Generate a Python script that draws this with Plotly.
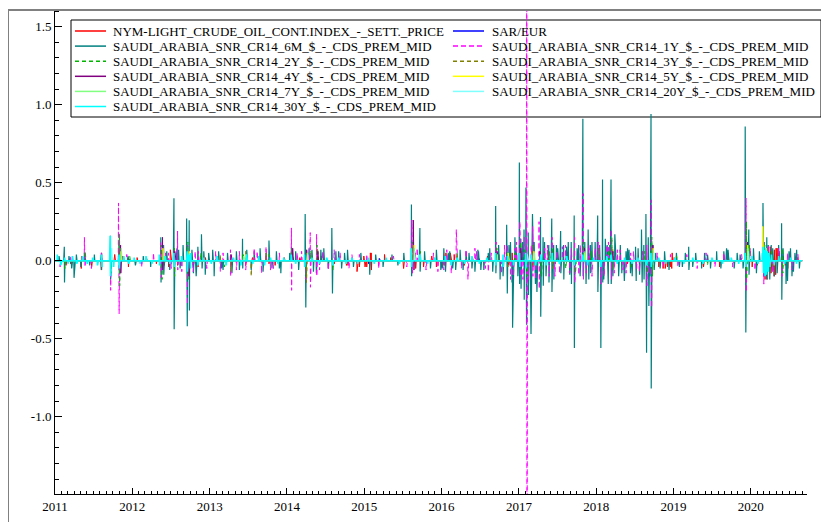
import pandas as pd
import plotly.graph_objects as go

# ---------------- data (daily changes) ----------------
START, END = "2011-01-03", "2020-08-31"

SERIES_NAMES = [
    "NYM-LIGHT_CRUDE_OIL_CONT.INDEX_-_SETT._PRICE",
    "SAR/EUR",
    "SAUDI_ARABIA_SNR_CR14_6M_$_-_CDS_PREM_MID",
    "SAUDI_ARABIA_SNR_CR14_1Y_$_-_CDS_PREM_MID",
    "SAUDI_ARABIA_SNR_CR14_2Y_$_-_CDS_PREM_MID",
    "SAUDI_ARABIA_SNR_CR14_3Y_$_-_CDS_PREM_MID",
    "SAUDI_ARABIA_SNR_CR14_4Y_$_-_CDS_PREM_MID",
    "SAUDI_ARABIA_SNR_CR14_5Y_$_-_CDS_PREM_MID",
    "SAUDI_ARABIA_SNR_CR14_7Y_$_-_CDS_PREM_MID",
    "SAUDI_ARABIA_SNR_CR14_20Y_$_-_CDS_PREM_MID",
    "SAUDI_ARABIA_SNR_CR14_30Y_$_-_CDS_PREM_MID",
]

OIL = [
    ("2011-02-22", -0.03), ("2011-03-16", -0.02), ("2011-05-05", -0.05), ("2011-05-06", 0.03),
    ("2011-06-23", -0.04), ("2011-08-08", -0.06), ("2011-08-09", 0.05), ("2011-09-22", -0.04),
    ("2011-10-10", 0.04), ("2011-11-15", 0.03), ("2011-12-14", -0.04),
    ("2012-01-24", 0.02), ("2012-03-08", 0.02), ("2012-04-24", -0.02), ("2012-05-31", -0.03),
    ("2012-06-21", -0.04), ("2012-06-29", 0.07), ("2012-08-02", -0.03), ("2012-10-15", -0.03),
    ("2012-11-07", -0.04), ("2012-12-12", 0.02),
    ("2013-02-25", -0.03), ("2013-04-15", -0.03), ("2013-06-20", -0.03), ("2013-07-22", 0.02),
    ("2013-08-28", 0.03), ("2013-10-08", -0.02), ("2013-11-06", -0.03), ("2013-12-19", 0.02),
    ("2014-01-29", 0.02), ("2014-03-03", 0.02), ("2014-06-12", 0.03), ("2014-08-13", -0.02),
    ("2014-10-09", -0.03), ("2014-10-16", -0.03), ("2014-11-28", -0.07), ("2014-12-09", -0.04),
    ("2014-12-11", -0.04), ("2014-12-30", 0.03),
    ("2015-01-05", -0.04), ("2015-01-13", -0.04), ("2015-01-30", 0.05), ("2015-02-03", 0.05),
    ("2015-02-04", -0.06), ("2015-03-10", -0.03), ("2015-04-07", 0.04), ("2015-05-06", 0.02),
    ("2015-07-06", -0.05), ("2015-08-27", 0.06), ("2015-08-31", 0.05), ("2015-09-01", -0.05),
    ("2015-10-08", -0.04), ("2015-11-16", 0.03), ("2015-12-08", -0.04),
    ("2016-01-07", -0.02), ("2016-01-13", -0.03), ("2016-01-20", -0.05), ("2016-01-22", 0.05),
    ("2016-02-02", 0.04), ("2016-02-12", 0.05), ("2016-03-01", 0.04), ("2016-04-18", -0.03),
    ("2016-05-26", 0.02), ("2016-08-05", 0.03), ("2016-09-28", 0.04), ("2016-11-14", -0.03),
    ("2016-11-30", 0.05), ("2016-12-12", 0.02),
    ("2017-03-08", -0.04), ("2017-06-21", -0.02), ("2017-11-30", 0.02), ("2018-02-05", -0.03),
    ("2018-05-29", -0.02), ("2018-10-24", -0.04), ("2018-11-13", -0.05), ("2018-11-23", -0.05),
    ("2018-12-04", -0.04), ("2018-12-19", -0.04), ("2018-12-24", -0.05), ("2018-12-26", 0.05),
    ("2019-01-04", 0.02), ("2019-05-23", -0.04), ("2019-08-07", -0.04), ("2019-09-16", 0.05),
    ("2020-01-08", -0.04), ("2020-01-31", -0.03), ("2020-03-09", -0.12), ("2020-03-10", 0.05),
    ("2020-03-16", -0.10), ("2020-03-18", -0.12), ("2020-03-19", 0.08), ("2020-03-23", -0.05),
    ("2020-03-25", 0.05), ("2020-04-01", -0.02), ("2020-04-02", 0.09), ("2020-04-03", 0.08),
    ("2020-04-06", -0.08), ("2020-04-13", 0.05), ("2020-04-15", -0.06), ("2020-04-16", 0.03),
    ("2020-04-21", -0.10), ("2020-04-22", 0.07), ("2020-04-28", -0.09), ("2020-04-29", 0.07),
    ("2020-04-30", 0.08), ("2020-05-01", 0.05), ("2020-05-05", 0.08), ("2020-05-14", 0.06),
    ("2020-06-01", 0.03), ("2020-06-12", -0.03), ("2020-06-24", -0.05), ("2020-08-10", 0.02),
]

SAR_EUR = [
    ("2011-08-10", 0.015), ("2015-01-22", -0.02), ("2015-03-13", 0.015),
    ("2016-06-24", 0.02), ("2020-03-12", 0.015),
]

CDS_6M = [
    ("2011-01-20", 0.03), ("2011-02-14", 0.09), ("2011-02-15", -0.14), ("2011-03-08", 0.03),
    ("2011-03-21", -0.05), ("2011-04-01", -0.11), ("2011-04-12", 0.04), ("2011-05-03", -0.04),
    ("2011-05-20", 0.05), ("2011-06-14", -0.03), ("2011-07-06", 0.04), ("2011-08-08", 0.05),
    ("2011-08-09", -0.06), ("2011-09-20", 0.16), ("2011-09-21", -0.12), ("2011-10-31", 0.12),
    ("2011-11-01", -0.08), ("2011-12-12", 0.03),
    ("2012-01-16", -0.03), ("2012-02-22", 0.03), ("2012-03-28", -0.04), ("2012-05-15", 0.15),
    ("2012-05-16", -0.14), ("2012-05-28", 0.10), ("2012-05-29", -0.09), ("2012-06-12", 0.06),
    ("2012-06-26", -0.06), ("2012-07-16", 0.40), ("2012-07-17", -0.44), ("2012-07-30", 0.08),
    ("2012-08-07", 0.07), ("2012-08-14", -0.05), ("2012-08-28", 0.10), ("2012-09-14", 0.27),
    ("2012-09-17", -0.42), ("2012-09-26", 0.26), ("2012-09-27", -0.32), ("2012-10-09", 0.07),
    ("2012-10-16", -0.08), ("2012-10-29", -0.10), ("2012-11-06", 0.09), ("2012-11-23", 0.17),
    ("2012-11-26", -0.05), ("2012-12-04", 0.06), ("2012-12-11", -0.09), ("2012-12-27", 0.05),
    ("2013-01-15", 0.07), ("2013-01-22", -0.10), ("2013-02-12", 0.06), ("2013-02-26", -0.05),
    ("2013-03-05", -0.06), ("2013-03-26", 0.05), ("2013-04-16", -0.08), ("2013-05-07", 0.06),
    ("2013-05-21", -0.06), ("2013-06-05", 0.14), ("2013-06-06", -0.05), ("2013-06-25", 0.07),
    ("2013-07-16", -0.06), ("2013-07-30", 0.06), ("2013-08-27", 0.08), ("2013-09-10", -0.07),
    ("2013-09-24", 0.05), ("2013-10-08", 0.13), ("2013-10-22", -0.05), ("2013-11-12", 0.06),
    ("2013-11-26", -0.05), ("2013-12-03", -0.08),
    ("2014-01-14", 0.05), ("2014-01-22", 0.09), ("2014-02-11", 0.06), ("2014-02-25", -0.06),
    ("2014-03-28", 0.30), ("2014-03-31", -0.30), ("2014-04-15", 0.08), ("2014-04-29", 0.07),
    ("2014-05-06", -0.07), ("2014-05-20", -0.08), ("2014-06-10", 0.07), ("2014-06-24", 0.08),
    ("2014-07-15", -0.05), ("2014-08-01", 0.21), ("2014-08-04", -0.21), ("2014-08-20", 0.06),
    ("2014-09-02", 0.06), ("2014-09-16", -0.05), ("2014-09-30", 0.05), ("2014-10-14", 0.07),
    ("2014-11-11", -0.04), ("2014-12-16", 0.05),
    ("2015-01-27", -0.09), ("2015-02-24", 0.04), ("2015-03-31", -0.04), ("2015-05-12", 0.04),
    ("2015-06-09", -0.03), ("2015-07-07", 0.05), ("2015-08-12", 0.36), ("2015-08-13", -0.10),
    ("2015-09-21", 0.21), ("2015-09-22", -0.07), ("2015-10-13", 0.06), ("2015-11-10", -0.05),
    ("2015-12-08", 0.07), ("2015-12-29", -0.06),
    ("2016-01-05", -0.05), ("2016-01-12", 0.08), ("2016-01-20", -0.07), ("2016-02-02", 0.05),
    ("2016-02-09", 0.06), ("2016-02-23", -0.05), ("2016-03-08", -0.06), ("2016-03-29", 0.07),
    ("2016-04-12", -0.06), ("2016-04-26", 0.06), ("2016-05-10", 0.05), ("2016-05-24", -0.05),
    ("2016-06-07", -0.07), ("2016-06-21", 0.07), ("2016-06-24", 0.06), ("2016-07-05", -0.06),
    ("2016-07-19", -0.06), ("2016-08-09", 0.05), ("2016-08-16", 0.08), ("2016-08-30", -0.07),
    ("2016-09-13", 0.35), ("2016-09-14", -0.08), ("2016-09-27", 0.10), ("2016-10-04", -0.12),
    ("2016-10-18", -0.10), ("2016-11-04", 0.23), ("2016-11-07", -0.21), ("2016-11-15", 0.10),
    ("2016-11-22", 0.12), ("2016-11-29", -0.14), ("2016-12-02", -0.43), ("2016-12-13", 0.15),
    ("2016-12-20", 0.08), ("2016-12-27", -0.10),
    ("2017-01-03", 0.63), ("2017-01-04", -0.15), ("2017-01-10", 0.14), ("2017-01-11", -0.18),
    ("2017-01-18", 0.12), ("2017-01-25", 0.20), ("2017-01-26", -0.25), ("2017-02-03", 0.47),
    ("2017-02-06", -0.41), ("2017-02-14", 0.18), ("2017-02-15", -0.22), ("2017-02-27", -0.47),
    ("2017-03-06", 0.30), ("2017-03-14", 0.12), ("2017-03-20", -0.15), ("2017-03-27", -0.20),
    ("2017-04-13", 0.28), ("2017-04-14", -0.36), ("2017-04-25", 0.15), ("2017-04-26", -0.16),
    ("2017-05-02", 0.12), ("2017-05-09", -0.10), ("2017-05-22", 0.10), ("2017-05-23", -0.14),
    ("2017-06-05", 0.27), ("2017-06-06", -0.20), ("2017-06-14", 0.10), ("2017-06-15", -0.12),
    ("2017-06-27", 0.10), ("2017-07-03", 0.08), ("2017-07-17", 0.19), ("2017-07-18", -0.08),
    ("2017-07-31", 0.10), ("2017-08-01", -0.12), ("2017-08-14", 0.09), ("2017-08-22", 0.12),
    ("2017-08-29", -0.09), ("2017-09-05", 0.12), ("2017-09-06", -0.15), ("2017-09-19", 0.29),
    ("2017-09-20", -0.56), ("2017-10-03", 0.08), ("2017-10-10", 0.10), ("2017-10-17", -0.10),
    ("2017-10-30", 0.91), ("2017-10-31", -0.10), ("2017-11-08", 0.12), ("2017-11-14", -0.15),
    ("2017-11-24", 0.20), ("2017-11-27", -0.12), ("2017-12-05", 0.10), ("2017-12-06", -0.08),
    ("2017-12-12", 0.12), ("2017-12-27", 0.12),
    ("2018-01-08", 0.29), ("2018-01-09", -0.20), ("2018-01-17", 0.10), ("2018-01-23", -0.56),
    ("2018-01-31", 0.52), ("2018-02-01", -0.14), ("2018-02-06", -0.12), ("2018-02-13", 0.14),
    ("2018-02-22", 0.10), ("2018-02-27", -0.15), ("2018-03-06", 0.10), ("2018-03-12", 0.52),
    ("2018-03-13", -0.15), ("2018-03-21", -0.10), ("2018-03-30", 0.17), ("2018-04-04", 0.08),
    ("2018-04-17", -0.10), ("2018-04-25", 0.10), ("2018-05-02", -0.08), ("2018-05-14", -0.13),
    ("2018-05-22", 0.06), ("2018-05-29", 0.08), ("2018-06-05", 0.07), ("2018-06-12", -0.08),
    ("2018-06-20", -0.10), ("2018-07-06", 0.09), ("2018-07-09", -0.13), ("2018-07-18", 0.08),
    ("2018-07-25", -0.09), ("2018-08-03", 0.20), ("2018-08-06", -0.14), ("2018-08-14", 0.10),
    ("2018-08-15", -0.12), ("2018-08-24", 0.30), ("2018-08-27", -0.59), ("2018-09-04", 0.15),
    ("2018-09-07", -0.29), ("2018-09-11", -0.10), ("2018-09-17", 0.94), ("2018-09-18", -0.82),
    ("2018-09-25", 0.10), ("2018-10-02", -0.06), ("2018-10-09", 0.05), ("2018-10-30", -0.05),
    ("2018-11-20", 0.06), ("2018-12-11", -0.06),
    ("2019-01-15", 0.05), ("2019-01-29", -0.04), ("2019-02-12", -0.04), ("2019-02-26", 0.05),
    ("2019-03-14", 0.09), ("2019-03-15", -0.06), ("2019-04-02", -0.04), ("2019-04-16", 0.05),
    ("2019-05-14", -0.05), ("2019-05-28", 0.05), ("2019-06-11", 0.04), ("2019-06-25", -0.05),
    ("2019-07-24", 0.06), ("2019-08-13", -0.05), ("2019-08-27", 0.06), ("2019-09-09", 0.08),
    ("2019-09-16", 0.07), ("2019-10-15", -0.05), ("2019-10-29", 0.05), ("2019-11-12", 0.04),
    ("2019-11-26", -0.05), ("2019-12-06", 0.86), ("2019-12-09", -0.46), ("2019-12-23", 0.20),
    ("2019-12-24", -0.09),
    ("2020-01-14", 0.08), ("2020-01-28", -0.08), ("2020-02-11", 0.06), ("2020-02-28", 0.37),
    ("2020-03-02", -0.10), ("2020-03-05", 0.12), ("2020-03-06", -0.10), ("2020-03-17", 0.15),
    ("2020-03-18", -0.12), ("2020-03-24", 0.10), ("2020-03-31", -0.12), ("2020-04-07", 0.10),
    ("2020-04-14", 0.08), ("2020-04-21", -0.10), ("2020-05-05", -0.08), ("2020-05-12", 0.10),
    ("2020-05-26", 0.24), ("2020-05-27", -0.25), ("2020-06-02", 0.08), ("2020-06-16", -0.15),
    ("2020-06-23", -0.13), ("2020-06-30", 0.06), ("2020-07-07", 0.08), ("2020-07-14", -0.10),
    ("2020-07-21", -0.07), ("2020-07-28", 0.05), ("2020-08-05", 0.07), ("2020-08-18", -0.05),
]

CDS_1Y = [
    ("2011-01-25", -0.04), ("2011-03-15", 0.03), ("2011-05-20", 0.15), ("2011-05-23", -0.04),
    ("2011-06-22", -0.05), ("2011-08-09", 0.05), ("2011-09-20", 0.06), ("2011-09-21", -0.19),
    ("2011-10-28", 0.37), ("2011-10-31", -0.34), ("2011-12-06", 0.04),
    ("2012-02-15", -0.04), ("2012-04-10", 0.05), ("2012-05-15", 0.12), ("2012-05-17", -0.11),
    ("2012-06-06", 0.05), ("2012-06-20", 0.05), ("2012-07-03", -0.05), ("2012-07-18", 0.07),
    ("2012-08-02", 0.19), ("2012-08-03", -0.06), ("2012-08-22", -0.07), ("2012-09-18", -0.28),
    ("2012-09-19", 0.10), ("2012-10-15", -0.07), ("2012-10-24", 0.06), ("2012-11-08", 0.06),
    ("2012-12-18", -0.05),
    ("2013-01-29", 0.06), ("2013-02-20", -0.07), ("2013-03-05", 0.05), ("2013-04-09", 0.07),
    ("2013-04-10", -0.10), ("2013-05-07", -0.06), ("2013-05-21", 0.06), ("2013-06-20", -0.06),
    ("2013-07-30", 0.08), ("2013-08-13", 0.06), ("2013-09-03", -0.08), ("2013-09-24", 0.09),
    ("2013-10-15", -0.06), ("2013-10-29", -0.05), ("2013-11-26", 0.05),
    ("2014-01-22", 0.21), ("2014-01-23", -0.19), ("2014-02-18", 0.05), ("2014-03-11", 0.06),
    ("2014-04-01", -0.12), ("2014-04-21", 0.18), ("2014-04-22", -0.17), ("2014-05-21", 0.17),
    ("2014-05-22", -0.10), ("2014-06-04", -0.06), ("2014-06-18", 0.06), ("2014-07-15", -0.06),
    ("2014-08-12", 0.07), ("2014-09-09", 0.05), ("2014-10-21", -0.05), ("2014-11-04", 0.04),
    ("2014-12-09", 0.04),
    ("2015-01-13", 0.04), ("2015-03-10", -0.05), ("2015-05-19", 0.03), ("2015-07-21", -0.04),
    ("2015-08-14", 0.26), ("2015-08-17", -0.08), ("2015-09-08", 0.08), ("2015-10-20", -0.06),
    ("2015-11-24", 0.05), ("2015-12-15", -0.07),
    ("2016-01-12", -0.06), ("2016-01-26", 0.07), ("2016-02-16", -0.08), ("2016-03-11", 0.20),
    ("2016-04-05", -0.05), ("2016-04-26", 0.07), ("2016-05-05", -0.12), ("2016-06-07", 0.08),
    ("2016-06-14", 0.06), ("2016-07-26", -0.05), ("2016-08-09", -0.07), ("2016-08-23", 0.05),
    ("2016-09-15", 0.12), ("2016-10-11", -0.08), ("2016-10-25", 0.10), ("2016-11-08", 0.10),
    ("2016-11-22", -0.12), ("2016-12-06", -0.10), ("2016-12-13", 0.08), ("2016-12-20", 0.12),
    ("2017-01-05", 0.25), ("2017-01-11", -0.10), ("2017-01-20", -0.12), ("2017-01-26", 0.15),
    ("2017-02-07", 3.0), ("2017-02-08", -3.0), ("2017-02-15", -0.12), ("2017-02-28", 0.10),
    ("2017-03-07", 0.22), ("2017-03-08", -0.10), ("2017-03-21", -0.12), ("2017-04-06", 0.25),
    ("2017-04-07", -0.18), ("2017-05-03", 0.08), ("2017-05-16", 0.10), ("2017-05-24", -0.10),
    ("2017-06-07", 0.15), ("2017-06-20", -0.10), ("2017-06-28", 0.06), ("2017-07-12", -0.08),
    ("2017-07-25", 0.09), ("2017-08-09", 0.10), ("2017-08-29", -0.08), ("2017-09-06", 0.08),
    ("2017-09-21", 0.15), ("2017-09-22", -0.14), ("2017-10-11", -0.09), ("2017-10-18", 0.10),
    ("2017-11-01", 0.43), ("2017-11-02", -0.12), ("2017-11-15", -0.08), ("2017-11-28", 0.10),
    ("2017-12-12", -0.10), ("2017-12-27", 0.08),
    ("2018-01-10", 0.12), ("2018-01-16", 0.10), ("2018-01-24", -0.15), ("2018-02-07", -0.10),
    ("2018-02-20", 0.10), ("2018-02-28", 0.12), ("2018-03-14", 0.20), ("2018-03-15", -0.12),
    ("2018-03-27", -0.08), ("2018-04-11", 0.07), ("2018-04-24", 0.07), ("2018-05-08", -0.06),
    ("2018-05-22", -0.08), ("2018-06-13", 0.05), ("2018-06-26", 0.06), ("2018-07-11", -0.05),
    ("2018-07-24", -0.07), ("2018-08-08", 0.06), ("2018-08-28", 0.10), ("2018-08-29", -0.16),
    ("2018-09-05", -0.08), ("2018-09-19", 0.39), ("2018-09-20", -0.30), ("2018-09-26", 0.06),
    ("2018-10-16", 0.05), ("2018-11-13", -0.04), ("2018-12-18", 0.04),
    ("2019-01-22", -0.04), ("2019-03-05", 0.04), ("2019-04-23", -0.05), ("2019-06-04", 0.05),
    ("2019-07-16", -0.04), ("2019-08-27", 0.05), ("2019-10-08", -0.04), ("2019-11-19", 0.04),
    ("2019-12-10", 0.40), ("2019-12-11", -0.20), ("2019-12-30", 0.08),
    ("2020-01-21", -0.06), ("2020-02-26", 0.12), ("2020-03-03", -0.15), ("2020-03-24", 0.10),
    ("2020-04-14", -0.08), ("2020-05-12", 0.08), ("2020-05-28", -0.10), ("2020-06-23", 0.05),
    ("2020-07-14", -0.06), ("2020-08-11", 0.04),
]

CDS_2Y = [
    ("2011-02-16", -0.05), ("2011-05-24", 0.06), ("2011-09-22", -0.08), ("2011-11-02", 0.17),
    ("2011-11-03", -0.16), ("2011-12-20", 0.03), ("2012-05-18", 0.10), ("2012-05-21", -0.12),
    ("2012-07-18", 0.08), ("2012-07-19", -0.10), ("2012-09-20", 0.12), ("2012-09-21", -0.12),
    ("2012-11-20", 0.05), ("2013-03-12", -0.04), ("2013-06-07", 0.05), ("2013-10-10", 0.04),
    ("2014-01-24", 0.08), ("2014-04-02", -0.10), ("2014-04-24", 0.06), ("2014-05-23", 0.10),
    ("2014-08-06", -0.06), ("2015-08-19", 0.12), ("2015-09-23", 0.06), ("2016-03-15", 0.05),
    ("2016-09-19", 0.08), ("2016-11-09", 0.06), ("2016-12-14", 0.05), ("2017-01-09", 0.12),
    ("2017-01-27", 0.07), ("2017-02-09", -0.10), ("2017-03-09", 0.10), ("2017-04-18", -0.10),
    ("2017-05-25", 0.06), ("2017-06-08", 0.08), ("2017-08-10", -0.05), ("2017-09-25", -0.08),
    ("2017-11-03", 0.12), ("2017-12-07", 0.06), ("2018-01-11", 0.08), ("2018-03-01", 0.07),
    ("2018-03-16", 0.15), ("2018-03-19", -0.06), ("2018-06-14", -0.04), ("2018-08-16", 0.06),
    ("2018-08-30", -0.08), ("2018-09-21", 0.15), ("2018-09-24", -0.10), ("2019-01-15", 0.03),
    ("2019-06-11", -0.03), ("2019-12-12", 0.25), ("2019-12-13", -0.12), ("2019-12-26", 0.10),
    ("2020-03-04", 0.10), ("2020-03-20", -0.08), ("2020-04-09", 0.06), ("2020-05-29", 0.08),
    ("2020-06-01", -0.08),
]

CDS_3Y = [
    ("2011-11-04", 0.08), ("2012-05-22", 0.06), ("2012-09-24", -0.08), ("2013-02-20", 0.04),
    ("2013-04-10", -0.07), ("2013-06-20", 0.06), ("2013-07-16", -0.10), ("2013-09-24", 0.05),
    ("2014-01-27", 0.06), ("2014-04-03", -0.14), ("2014-05-26", 0.08), ("2015-08-20", 0.10),
    ("2016-03-16", 0.04), ("2016-11-10", -0.04), ("2017-03-10", 0.06), ("2017-06-09", -0.05),
    ("2017-11-06", 0.06), ("2018-03-20", 0.08), ("2018-09-25", 0.08), ("2019-12-16", 0.10),
    ("2020-03-05", 0.08), ("2020-03-23", -0.06),
]

CDS_4Y = [
    ("2011-11-07", 0.10), ("2011-11-08", -0.08), ("2012-05-23", 0.15), ("2012-05-24", -0.06),
    ("2012-07-20", 0.06), ("2012-09-25", -0.10), ("2013-04-12", 0.04), ("2014-01-28", 0.08),
    ("2014-04-04", 0.07), ("2014-05-27", 0.06), ("2015-08-21", 0.26), ("2015-08-24", -0.06),
    ("2016-09-20", 0.06), ("2017-01-10", 0.08), ("2017-04-10", 0.06), ("2017-11-07", 0.08),
    ("2018-03-21", 0.06), ("2018-09-26", 0.10), ("2019-12-17", 0.12), ("2020-03-06", 0.07),
]

CDS_5Y = [
    ("2011-11-09", 0.06), ("2012-05-25", 0.08), ("2012-09-26", 0.06), ("2013-06-21", 0.04),
    ("2014-04-07", 0.05), ("2015-08-25", 0.10), ("2016-11-11", 0.05), ("2017-03-13", 0.06),
    ("2017-11-08", 0.05), ("2018-09-27", 0.08), ("2019-12-18", 0.10), ("2020-02-27", 0.22),
    ("2020-03-09", -0.05), ("2020-03-16", 0.08),
]

CDS_7Y = [
    ("2011-09-23", 0.04), ("2011-11-10", 0.08), ("2012-05-29", 0.06), ("2012-09-27", 0.05),
    ("2013-06-10", 0.03), ("2014-04-08", 0.05), ("2015-08-26", 0.08), ("2016-09-21", 0.04),
    ("2017-03-14", 0.05), ("2017-11-09", 0.06), ("2018-09-28", 0.07), ("2019-12-19", 0.08),
    ("2020-03-10", 0.10), ("2020-03-24", -0.06),
]

CDS_20Y = [
    ("2011-09-26", 0.08), ("2012-09-28", 0.04), ("2014-04-09", 0.04), ("2015-08-27", 0.06),
    ("2017-02-10", 0.04), ("2018-10-01", 0.05), ("2019-12-20", 0.06), ("2020-03-11", 0.09),
    ("2020-03-25", -0.07),
]

CDS_30Y = [
    ("2011-01-12", 0.04), ("2011-01-28", -0.03), ("2011-02-15", 0.02), ("2011-03-03", -0.02),
    ("2011-03-24", 0.03), ("2011-04-14", -0.02), ("2011-05-10", 0.03), ("2011-06-02", -0.02),
    ("2011-06-28", 0.02), ("2011-07-21", -0.03), ("2011-08-10", 0.04), ("2011-08-11", -0.04),
    ("2011-09-19", 0.16), ("2011-09-20", -0.10), ("2011-09-22", 0.06), ("2011-10-05", -0.04),
    ("2011-10-31", 0.04), ("2011-11-01", -0.05), ("2011-11-22", 0.03), ("2011-12-15", -0.02),
    ("2012-01-10", 0.02), ("2012-02-07", -0.02), ("2012-03-06", 0.03), ("2012-04-03", -0.02),
    ("2012-05-08", 0.04), ("2012-05-09", -0.03), ("2012-06-05", 0.03), ("2012-06-26", -0.02),
    ("2012-07-16", 0.05), ("2012-07-17", -0.04), ("2012-08-21", 0.03), ("2012-09-17", 0.06),
    ("2012-09-18", -0.07), ("2012-09-25", 0.04), ("2012-10-02", -0.05), ("2012-10-03", 0.05),
    ("2012-11-06", -0.03), ("2012-12-04", 0.02),
    ("2013-01-08", -0.02), ("2013-02-05", 0.03), ("2013-03-19", -0.03), ("2013-04-23", 0.02),
    ("2013-05-28", -0.03), ("2013-06-24", 0.04), ("2013-07-23", -0.02), ("2013-08-20", 0.03),
    ("2013-09-17", -0.03), ("2013-10-15", 0.02), ("2013-11-19", -0.02), ("2013-12-17", 0.02),
    ("2014-01-21", 0.04), ("2014-02-11", -0.02), ("2014-03-25", 0.04), ("2014-03-26", -0.04),
    ("2014-04-29", 0.02), ("2014-06-03", -0.02), ("2014-07-08", 0.02), ("2014-08-05", -0.03),
    ("2014-09-02", 0.02), ("2014-10-07", -0.02), ("2014-11-04", 0.02), ("2014-12-02", -0.02),
    ("2015-01-20", 0.02), ("2015-02-17", -0.02), ("2015-04-14", 0.02), ("2015-06-16", -0.02),
    ("2015-08-12", 0.08), ("2015-08-13", -0.04), ("2015-09-21", 0.04), ("2015-10-27", -0.02),
    ("2015-12-01", 0.02),
    ("2016-01-19", 0.03), ("2016-02-16", -0.03), ("2016-03-15", 0.02), ("2016-04-19", -0.02),
    ("2016-05-24", 0.03), ("2016-06-28", -0.02), ("2016-08-02", 0.02), ("2016-09-13", 0.05),
    ("2016-09-14", -0.03), ("2016-10-18", 0.04), ("2016-10-19", -0.04), ("2016-11-08", 0.03),
    ("2016-12-06", -0.03),
    ("2017-01-04", 0.05), ("2017-01-05", -0.04), ("2017-02-02", 0.05), ("2017-02-03", -0.05),
    ("2017-03-01", 0.04), ("2017-03-21", -0.03), ("2017-04-13", 0.04), ("2017-05-09", -0.03),
    ("2017-06-07", 0.05), ("2017-07-11", -0.02), ("2017-08-15", 0.03), ("2017-09-19", -0.03),
    ("2017-10-30", 0.04), ("2017-11-21", -0.03), ("2017-12-19", 0.02),
    ("2018-01-23", -0.04), ("2018-02-20", 0.03), ("2018-03-12", 0.04), ("2018-04-10", -0.02),
    ("2018-05-15", 0.02), ("2018-06-19", -0.02), ("2018-07-17", 0.02), ("2018-08-27", -0.03),
    ("2018-09-17", 0.05), ("2018-09-18", -0.04), ("2018-10-23", 0.02), ("2018-11-27", -0.02),
    ("2019-01-08", 0.02), ("2019-02-19", -0.02), ("2019-04-02", 0.02), ("2019-05-21", -0.02),
    ("2019-07-02", 0.02), ("2019-08-20", -0.02), ("2019-10-01", 0.02), ("2019-11-05", -0.02),
    ("2019-12-06", 0.05), ("2019-12-09", -0.04),
    ("2020-01-07", 0.03), ("2020-02-04", -0.02), ("2020-02-25", 0.05), ("2020-02-28", 0.09),
    ("2020-03-02", -0.08), ("2020-03-05", 0.07), ("2020-03-09", -0.10), ("2020-03-12", 0.08),
    ("2020-03-16", -0.09), ("2020-03-19", 0.06), ("2020-03-23", -0.07), ("2020-03-26", 0.05),
    ("2020-04-01", -0.04), ("2020-04-08", 0.04), ("2020-04-21", -0.03), ("2020-05-12", 0.03),
    ("2020-06-09", -0.02), ("2020-07-07", 0.02), ("2020-08-04", -0.02),
]

SERIES_DATA = [OIL, SAR_EUR, CDS_6M, CDS_1Y, CDS_2Y, CDS_3Y, CDS_4Y, CDS_5Y, CDS_7Y, CDS_20Y, CDS_30Y]

# ---------------- styles ----------------
COLORS = ["#ff0000", "#0000ff", "#008080", "#ff00ff", "#00b400", "#808000",
          "#800080", "#ffff00", "#80ff80", "#80ffff", "#00ffff"]
DASHES = ["solid", "solid", "solid", "5px,3px", "4px,3px", "4px,3px",
          "solid", "solid", "solid", "solid", "solid"]
WIDTHS = [1, 1, 1.2, 1, 1, 1, 1, 1, 1, 1, 1.6]

FONT = "Liberation Serif"

# page offset (browser body margin) and geometry in reference pixels
OFF = 8
W, H = 829 - OFF, 522 - OFF
L, R, T, B = 55 - OFF, 807 - OFF, 10 - OFF, 494 - OFF


def px_x(p):
    return (p - OFF - L) / (R - L)


def px_y(p):
    return (B - (p - OFF)) / (B - T)


idx = pd.bdate_range(START, END)

fig = go.Figure()
for name, data, col, dash, w in zip(SERIES_NAMES, SERIES_DATA, COLORS, DASHES, WIDTHS):
    s = pd.Series(0.0, index=idx)
    dates = pd.to_datetime([d for d, _ in data])
    pos = idx.get_indexer(dates, method="nearest")
    for p, (_, v) in zip(pos, data):
        s.iloc[p] = v
    fig.add_trace(go.Scatter(x=s.index, y=s.values, mode="lines", name=name,
                             line=dict(color=col, width=w, dash=dash),
                             showlegend=False, hoverinfo="skip"))

# ---------------- layout ----------------
yvals = [-1.0, -0.5, 0.0, 0.5, 1.0, 1.5]
ytext = ["-1.0", "-0.5", "0.0", "0.5", "1.0", "1.5"]
ZERO_PX, PX_PER_UNIT = 260.7, 156.0

fig.update_layout(
    width=W, height=H, autosize=False,
    margin=dict(l=L, r=W - R, t=T, b=H - B),
    paper_bgcolor="white", plot_bgcolor="white",
    font=dict(family=FONT, size=13, color="black"),
    showlegend=False,
)
fig.update_xaxes(
    range=["2011-01-01", "2020-09-23"], type="date",
    showgrid=False, zeroline=False,
    showline=True, linecolor="black", linewidth=1,
    ticks="inside", ticklen=6, tickcolor="black",
    tick0="2011-01-01", dtick="M12", tickformat="%Y",
    minor=dict(dtick="M1", ticks="inside", ticklen=3, tickcolor="black", showgrid=False),
    tickfont=dict(family=FONT, size=13, color="black"),
)
fig.update_yaxes(
    range=[(ZERO_PX - 494) / PX_PER_UNIT, (ZERO_PX - 10) / PX_PER_UNIT],
    showgrid=False, zeroline=False,
    showline=True, linecolor="black", linewidth=1,
    ticks="inside", ticklen=7, tickcolor="black",
    tickmode="array", tickvals=yvals, ticktext=ytext,
    minor=dict(tick0=0, dtick=0.1, ticks="inside", ticklen=4, tickcolor="black", showgrid=False),
    tickfont=dict(family=FONT, size=13, color="black"),
)

shapes = []
# outer frame
shapes.append(dict(type="rect", xref="paper", yref="paper",
                   x0=px_x(8), x1=px_x(822), y0=px_y(540), y1=px_y(10),
                   line=dict(color="#808080", width=2), fillcolor="rgba(0,0,0,0)", layer="above"))
# legend box
shapes.append(dict(type="rect", xref="paper", yref="paper",
                   x0=px_x(71), x1=px_x(821), y0=px_y(117), y1=px_y(20),
                   line=dict(color="black", width=1), fillcolor="rgba(0,0,0,0)", layer="below"))

annotations = []
row_y = [31 + 15.1 * i for i in range(6)]
for i, (name, col, dash) in enumerate(zip(SERIES_NAMES, COLORS, DASHES)):
    column, row = i % 2, i // 2
    x0, x1, xt = (75, 106, 111) if column == 0 else (453, 484, 490)
    yy = row_y[row]
    shapes.append(dict(type="line", xref="paper", yref="paper",
                       x0=px_x(x0), x1=px_x(x1), y0=px_y(yy), y1=px_y(yy),
                       line=dict(color=col, width=1.5, dash=dash if dash != "solid" else None)))
    annotations.append(dict(xref="paper", yref="paper", x=px_x(xt), y=px_y(yy),
                            xanchor="left", yanchor="middle", showarrow=False,
                            text=name, font=dict(family=FONT, size=13, color="black")))

fig.update_layout(shapes=shapes, annotations=annotations)
fig.write_html("out.html")
